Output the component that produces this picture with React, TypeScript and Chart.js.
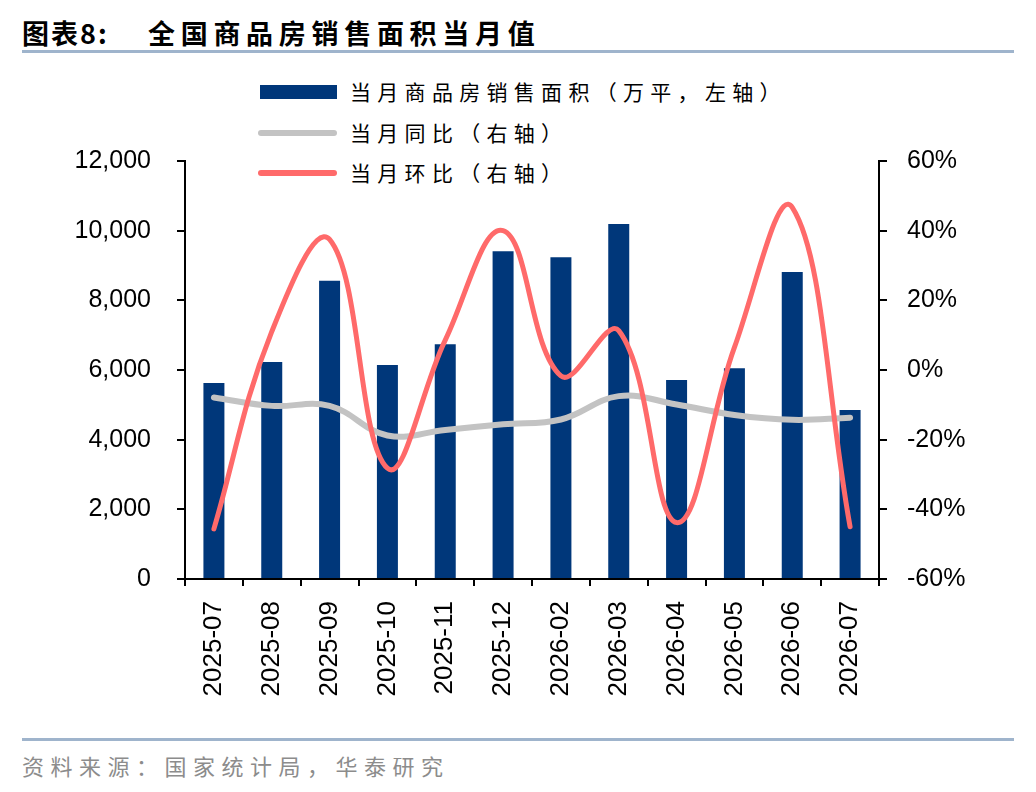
import React, { useEffect, useRef } from 'react';
import { Chart, registerables } from 'chart.js';

Chart.register(...registerables);

// 月份
const months = [
  '2025-07', '2025-08', '2025-09', '2025-10', '2025-11', '2025-12',
  '2026-02', '2026-03', '2026-04', '2026-05', '2026-06', '2026-07',
];
// 当月商品房销售面积（万平）
const salesArea = [5630, 6230, 8560, 6140, 6740, 9410, 9240, 10190, 5710, 6050, 8810, 4850];
// 当月同比（%）
const yoy = [-7.9, -10.3, -10.3, -18.8, -17.2, -15.6, -14.2, -7.5, -9.9, -12.9, -14.3, -13.7];
// 当月环比（%）
const mom = [-45.6, 11, 37.5, -28.2, 8.6, 40, -1.7, 11.3, -43.8, 6.5, 46.7, -45];

const legendLabels = ['当月商品房销售面积（万平，左轴）', '当月同比（右轴）', '当月环比（右轴）'];

const BAR = '#00377A';
const GRAY = '#C3C3C3';
const RED = '#FF6A6A';
const SANS = '"Liberation Sans", Arial, sans-serif';
const CJK = '"Noto Sans CJK SC", "Noto Sans", sans-serif';

const SalesChart: React.FC = () => {
  const chartRef = useRef<HTMLCanvasElement>(null);

  useEffect(() => {
    if (!chartRef.current) return;
    const tickFont = { family: SANS, size: 25 };
    const myChart = new Chart(chartRef.current, {
      type: 'bar',
      data: {
        labels: months,
        datasets: [
          {
            type: 'line',
            label: legendLabels[2],
            data: mom,
            yAxisID: 'y1',
            borderColor: RED,
            borderWidth: 5,
            pointRadius: 0,
            tension: 0.4,
            borderCapStyle: 'round',
            order: 0,
          },
          {
            type: 'line',
            label: legendLabels[1],
            data: yoy,
            yAxisID: 'y1',
            borderColor: GRAY,
            borderWidth: 6,
            pointRadius: 0,
            tension: 0.4,
            borderCapStyle: 'round',
            order: 1,
          },
          {
            type: 'bar',
            label: legendLabels[0],
            data: salesArea,
            yAxisID: 'y',
            backgroundColor: BAR,
            categoryPercentage: 1,
            barPercentage: 0.363,
            order: 2,
          },
        ],
      },
      options: {
        responsive: false,
        animation: false,
        layout: { padding: { top: 101, left: 0, right: 0, bottom: 0 } },
        plugins: { legend: { display: false }, tooltip: { enabled: false } },
        scales: {
          x: {
            grid: { drawOnChartArea: false, color: '#000', lineWidth: 2, tickLength: 7, offset: true },
            border: { color: '#000', width: 2 },
            ticks: { color: '#000', font: { family: SANS, size: 26 }, minRotation: 90, maxRotation: 90, padding: 15 },
            afterFit: (s: any) => { s.height = 161; },
          },
          y: {
            position: 'left',
            min: 0,
            max: 12000,
            grid: { drawOnChartArea: false, color: '#000', lineWidth: 2, tickLength: 8 },
            border: { color: '#000', width: 2 },
            ticks: {
              stepSize: 2000,
              color: '#000',
              font: tickFont,
              padding: 26,
              callback: (v: any) => Number(v).toLocaleString('en-US'),
            },
            afterFit: (s: any) => { s.width = 185; },
          },
          y1: {
            position: 'right',
            min: -60,
            max: 60,
            grid: { drawOnChartArea: false, color: '#000', lineWidth: 2, tickLength: 8 },
            border: { color: '#000', width: 2 },
            ticks: {
              stepSize: 20,
              color: '#000',
              font: tickFont,
              padding: 20,
              callback: (v: any) => `${v}%`,
            },
            afterFit: (s: any) => { s.width = 157; },
          },
        },
      },
    });
    return () => {
      myChart.destroy();
    };
  }, []);

  return <canvas ref={chartRef} width={1036} height={680} style={{ position: 'absolute', left: 0, top: 60 }} />;
};

const App: React.FC = () => {
  const legendText: React.CSSProperties = {
    position: 'absolute',
    left: 350,
    fontFamily: CJK,
    fontSize: 21,
    letterSpacing: 6.3,
    lineHeight: '26px',
    color: '#000',
    whiteSpace: 'nowrap',
  };
  return (
    <div style={{ position: 'absolute', left: 0, top: 0, width: 1036, height: 792, background: '#fff', overflow: 'hidden' }}>
      <div style={{ position: 'absolute', left: 22, top: 16, fontFamily: CJK, fontWeight: 700, fontSize: 27, letterSpacing: 2, lineHeight: '34px', whiteSpace: 'nowrap' }}>
        图表8:
      </div>
      <div style={{ position: 'absolute', left: 148, top: 16, fontFamily: CJK, fontWeight: 700, fontSize: 27, letterSpacing: 5.7, lineHeight: '34px', whiteSpace: 'nowrap' }}>
        全国商品房销售面积当月值
      </div>
      <div style={{ position: 'absolute', left: 22, top: 50, width: 992, height: 3, background: '#9FB4CC' }} />

      {/* legend */}
      <div style={{ position: 'absolute', left: 260, top: 85, width: 77, height: 14, background: BAR }} />
      <div style={{ ...legendText, top: 78 }}>{legendLabels[0]}</div>
      <div style={{ position: 'absolute', left: 258, top: 130, width: 79, height: 6, borderRadius: 3, background: GRAY }} />
      <div style={{ ...legendText, top: 119 }}>{legendLabels[1]}</div>
      <div style={{ position: 'absolute', left: 258, top: 170, width: 79, height: 6, borderRadius: 3, background: RED }} />
      <div style={{ ...legendText, top: 159 }}>{legendLabels[2]}</div>

      <SalesChart />

      <div style={{ position: 'absolute', left: 22, top: 738, width: 992, height: 3, background: '#9FB4CC' }} />
      <div style={{ position: 'absolute', left: 22, top: 751, fontFamily: CJK, fontSize: 22, letterSpacing: 6.5, lineHeight: '28px', color: '#8C8C8C', whiteSpace: 'nowrap' }}>
        资料来源：国家统计局，华泰研究
      </div>
    </div>
  );
};

export default App;
